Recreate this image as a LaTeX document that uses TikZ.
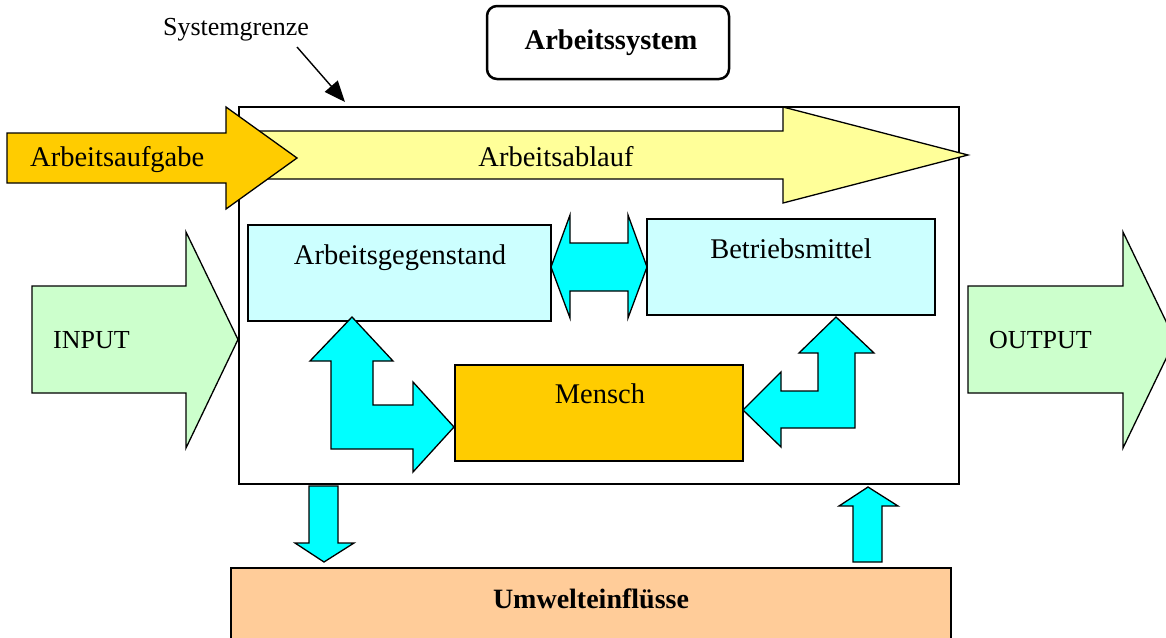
\documentclass[tikz,border=0pt]{standalone}
\usepackage{fontspec}
\setmainfont{Liberation Serif}
\usetikzlibrary{arrows.meta}
\definecolor{gold}{HTML}{FFCC00}
\definecolor{paleyellow}{HTML}{FFFF99}
\definecolor{palecyan}{HTML}{CCFFFF}
\definecolor{brightcyan}{HTML}{00FFFF}
\definecolor{palegreen}{HTML}{CCFFCC}
\definecolor{peach}{HTML}{FFCC99}
\begin{document}
\begin{tikzpicture}[x=1pt,y=-1pt,
  outline/.style={draw=black,line width=1.3pt,line join=miter},
  boxnode/.style={outline,inner sep=0pt,outer sep=0pt,anchor=north west},
  txt/.style={inner sep=0pt,anchor=base,font=\fontsize{28.5}{30}\selectfont},
  smalltxt/.style={inner sep=0pt,anchor=base west,font=\fontsize{26}{28}\selectfont},
  boldtxt/.style={inner sep=0pt,anchor=base,font=\fontsize{28.5}{30}\selectfont\bfseries}]
\useasboundingbox (0,0) rectangle (1166,637);
\clip (0,0) rectangle (1166,637);

% system boundary
\node[draw=black,line width=1.9pt,inner sep=0pt,outer sep=0pt,anchor=north west,
      minimum width=720pt,minimum height=377pt] (sys) at (239,107) {};

% title box
\node[draw=black,line width=2.5pt,rounded corners=10pt,inner sep=0pt,outer sep=0pt,
      anchor=north west,minimum width=242pt,minimum height=73pt] (title) at (487,6) {};
\node[boldtxt] (titletext) at (611,49) {Arbeitssystem};

% label and pointer for the system boundary
\node[txt,font=\fontsize{26}{28}\selectfont] (sg) at (236,35) {Systemgrenze};
\coordinate (sgtail) at (297,47);
\coordinate (sgtip) at (345,102);
\draw[line width=1.4pt,-{Triangle[length=21pt,width=17pt]}] (sgtail) -- (sgtip);

% work flow arrow and task arrow
\draw[outline,fill=paleyellow] (240,131) -- (783,131) -- (783,107) -- (968,155)
  -- (783,203) -- (783,179) -- (240,179) -- cycle;
\node[txt] (ablauf) at (556,166) {Arbeitsablauf};
\draw[outline,fill=gold] (7,133) -- (226,133) -- (226,107) -- (297,158)
  -- (226,209) -- (226,183) -- (7,183) -- cycle;
\node[txt,anchor=base west] (aufgabe) at (30,166) {Arbeitsaufgabe};

% input and output
\draw[outline,fill=palegreen] (32,286) -- (186,286) -- (186,232) -- (238,339.5)
  -- (186,448) -- (186,393) -- (32,393) -- cycle;
\node[smalltxt] (input) at (53,348) {INPUT};
\draw[outline,fill=palegreen] (968,286) -- (1123,286) -- (1123,232) -- (1175,340)
  -- (1123,448) -- (1123,393) -- (968,393) -- cycle;
\node[smalltxt] (output) at (989,348) {OUTPUT};

% elements of the work system
\node[boxnode,fill=palecyan,minimum width=303pt,minimum height=96pt] (gegen) at (248,225) {};
\node[txt] (gegentext) at (400,264) {Arbeitsgegenstand};
\node[boxnode,fill=palecyan,minimum width=288pt,minimum height=96pt] (mittel) at (647,219) {};
\node[txt] (mitteltext) at (791,258) {Betriebsmittel};
\node[boxnode,fill=gold,minimum width=288pt,minimum height=96pt] (mensch) at (455,365) {};
\node[txt] (menschtext) at (600,403) {Mensch};

% interactions
\draw[outline,fill=brightcyan] (551,267) -- (570,215) -- (570,243) -- (628,243)
  -- (628,215) -- (647,267) -- (628,318) -- (628,291) -- (570,291) -- (570,318) -- cycle;
\draw[outline,fill=brightcyan] (352,317) -- (393,361) -- (373,361) -- (373,405)
  -- (413,405) -- (413,382) -- (454,427) -- (413,472) -- (413,449) -- (331,449)
  -- (331,361) -- (310,361) -- cycle;
\draw[outline,fill=brightcyan] (836,317) -- (874,353) -- (855,353) -- (855,428)
  -- (781,428) -- (781,447) -- (743,410) -- (781,372) -- (781,391) -- (818,391)
  -- (818,353) -- (799,353) -- cycle;

% environment
\draw[outline,fill=brightcyan] (309,486) -- (338,486) -- (338,543) -- (354,543)
  -- (324,562) -- (295,543) -- (309,543) -- cycle;
\draw[outline,fill=brightcyan] (868,487) -- (898,506) -- (882,506) -- (882,562)
  -- (853,562) -- (853,506) -- (839,506) -- cycle;
\node[boxnode,fill=peach,minimum width=720pt,minimum height=90pt] (umwelt) at (231,568) {};
\node[boldtxt,font=\fontsize{28}{30}\selectfont\bfseries] (umwelttext) at (591,608) {Umwelteinflüsse};
\end{tikzpicture}
\end{document}
